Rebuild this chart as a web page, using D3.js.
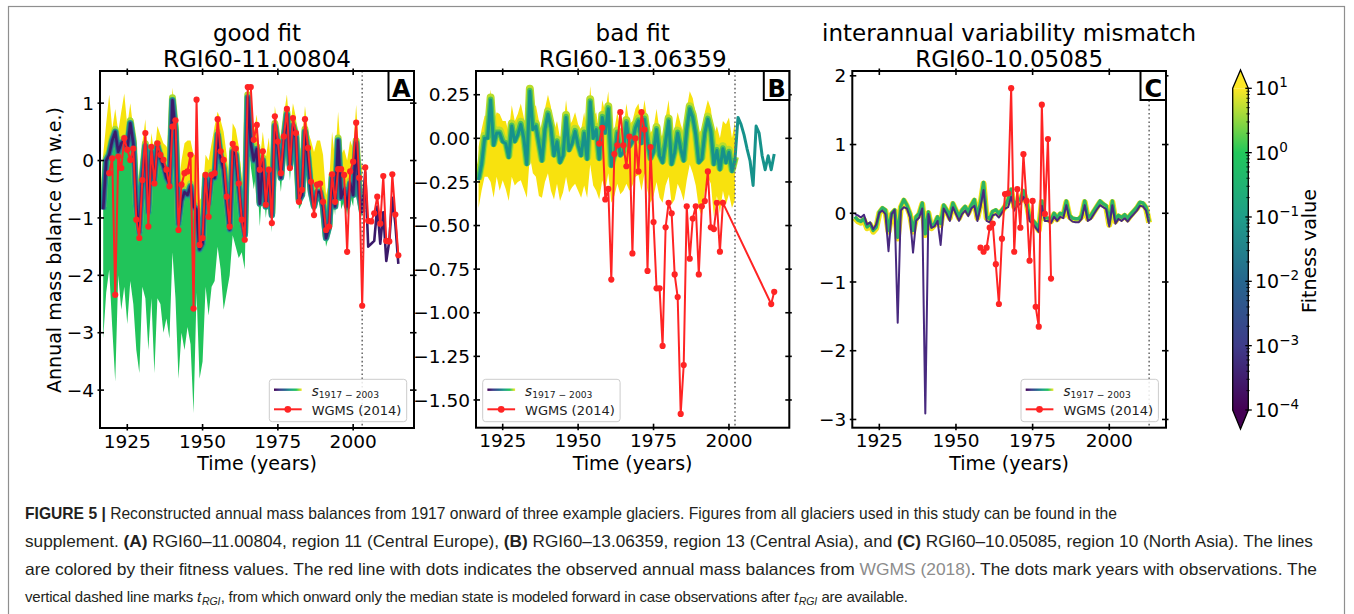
<!DOCTYPE html>
<meta charset="utf-8">
<html>
<head>
<title>Reconstructed annual mass balances</title>
<script src="https://cdnjs.cloudflare.com/ajax/libs/d3/7.8.5/d3.min.js"></script>
<style>
  body { margin: 0; background: #fff; }
  svg text { font-family: "DejaVu Sans", sans-serif; fill: #000; }
  .caption text { font-family: "Liberation Sans Narrow", "Arial Narrow", "Liberation Sans", sans-serif; fill: #231f20; }
</style>
</head>
<body>
<script>

// ---------- values ----------
var firstYear = 1917;
var xTicks = [1925, 1950, 1975, 2000];

// (A) RGI60-11.00804 : median state 1917-2015, ensemble envelope 1917-2003
var aMedian = [-0.85, 0.0, 0.1, 0.35, 0.5, 0.15, 0.3, 0.35, 0.2, 0.65,
  0.3, -0.8, -1.25, -0.3, 0.25, -0.9, 0.15, -0.35, 0.25, 0.05,
  -0.1, -0.3, -0.4, 1.05, 0.5, -1.1, -0.7, -0.55, -0.6, -0.45,
  -0.8, -0.85, -1.55, -1.45, -0.3, -0.75, -0.25, -0.3, 0.45, 0.05,
  -0.15, -0.7, -1.2, 0.15, 0.1, -0.45, -1.0, -1.3, 1.1, 0.3,
  0.0, 0.2, -0.75, 0.0, -0.8, -0.2, -0.95, 0.6, 0.25, -0.3,
  0.35, 0.8, -0.1, 0.6, 0.4, -0.7, -0.6, 0.5, 0.05, -0.55,
  -0.8, -0.55, -0.55, -0.8, -1.35, -1.15, -0.3, -0.8, 0.35, -0.65,
  -0.5, -0.8, -0.4, -0.6, 0.3, -0.6, -0.9, -0.2, -1.5, -1.45,
  -1.4, -0.8, -1.45, -0.9, -1.75, -1.4, -0.65, -1.1, -1.8];
var aUpper = [0.1, 0.65, 1.15, 0.55, 0.9, 0.5, 0.85, 1.17, 0.6, 1.0,
  0.55, -0.2, -0.5, 0.3, 0.72, -0.2, 0.48, 0.1, 0.6, 0.45,
  0.3, 0.25, 0.1, 1.27, 0.8, -0.5, 0.0, 0.3, 0.35, 0.35,
  0.1, 0.1, -0.7, -0.6, 0.1, 0.0, 0.3, 0.6, 0.85, 0.7,
  0.5, 0.1, -0.4, 0.65, 0.55, 0.25, -0.3, -0.5, 1.3, 1.1,
  0.5, 0.8, 0.0, 0.5, 0.05, 0.4, -0.3, 0.95, 0.55, 0.3,
  0.8, 1.15, 0.5, 1.0, 0.75, 0.1, 0.3, 0.95, 0.5, 0.35,
  0.15, 0.35, 0.35, 0.1, -0.6, -0.4, 0.5, 0.0, 0.85, 0.1,
  0.2, 0.0, 0.35, 0.2, 0.97, 0.1, -0.1];
var aLower = [-3.1, -2.3, -1.9, -2.9, -3.85, -2.0, -2.6, -2.2, -2.85, -2.1,
  -2.5, -3.3, -3.7, -2.2, -2.4, -3.3, -2.4, -3.7, -2.4, -2.5,
  -3.0, -2.75, -3.1, -1.6, -2.4, -3.8, -3.0, -3.3, -2.9, -3.2,
  -4.4, -2.3, -3.8, -3.5, -2.2, -2.7, -2.2, -2.1, -1.5, -1.9,
  -2.6, -2.3, -2.0, -1.3, -1.5, -1.7, -1.6, -1.9, 0.7, -0.1,
  -0.5, -0.15, -1.15, -0.3, -1.0, -0.45, -1.25, 0.3, 0.0, -0.55,
  0.1, 0.5, -0.35, 0.35, 0.15, -0.85, -0.75, 0.25, -0.2, -0.7,
  -0.95, -0.7, -0.7, -0.95, -1.5, -1.3, -0.5, -0.95, 0.1, -0.85,
  -0.7, -0.95, -0.6, -0.8, 0.05, -0.8, -1.0];
var aObsStart = 1919;
var aObs = [-0.22, 0.04, -2.34, 0.07, -0.13, 0.39, 0.19, 0.01, 0.21, -1.03,
  -1.35, -0.34, 0.48, -1.15, 0.24, -0.4, 0.3, 0.1, 0.01, -0.16,
  -0.45, 0.59, 0.7, -1.21, -0.42, -0.22, -0.19, 0.1, -2.58, 1.06,
  -1.47, -1.35, -0.25, -0.98, -0.25, -0.22, 0.72, 0.16, 0.01, -0.63,
  -1.15, 0.29, 0.21, -0.4, -1.03, -1.38, 1.28, 1.28, 0.36, 0.62,
  -0.16, 0.16, -0.77, -0.16, -1.09, 0.77, 0.33, -0.22, 0.42, 0.9,
  -0.13, 0.74, 0.48, -0.72, -0.51, 0.72, 0.22, -0.37, -0.95, -0.42,
  -0.4, -0.72, -1.21, -1.15, -0.24, -0.72, -0.15, -0.15, -0.25, -1.59,
  -0.19, -0.02, 0.66, -0.3, -2.53, -0.12, -1.05, -1.06, -0.92, -0.63,
  -1.1, -0.27, -1.4, -1.41, -0.24, -0.94, -1.65];
var aTicksY = [-4, -3, -2, -1, 0, 1];

// (B) RGI60-13.06359 : median state 1917-2015, ensemble envelope 1917-2002
var bMedian = [-0.24, -0.15, 0.0, 0.0, 0.22, -0.04, 0.03, 0.03, -0.02, -0.03,
  -0.11, 0.07, -0.02, 0.02, 0.08, 0.0, -0.15, 0.27, 0.05, 0.07,
  -0.03, -0.13, 0.05, 0.14, 0.06, -0.1, -0.02, -0.14, -0.1, 0.12,
  -0.07, -0.03, 0.04, -0.04, -0.1, 0.03, -0.12, 0.21, 0.0, 0.05,
  -0.12, 0.12, 0.03, 0.17, -0.16, -0.1, 0.03, -0.1, -0.08, 0.09,
  -0.05, -0.02, 0.06, 0.1, -0.03, 0.11, -0.02, -0.12, -0.08, 0.05,
  -0.1, -0.14, -0.02, 0.1, -0.15, -0.08, 0.03, -0.06, -0.13, 0.05,
  0.17, 0.12, 0.02, -0.14, -0.12, 0.03, 0.11, 0.04, -0.15, -0.07,
  -0.18, -0.06, -0.14, -0.08, -0.19, -0.12, 0.12, 0.08, 0.02, -0.06,
  -0.13, -0.27, 0.07, 0.03, -0.1, -0.18, -0.1, -0.18, -0.09];
var bUpper = [-0.05, 0.05, 0.13, 0.13, 0.28, 0.1, 0.15, 0.14, 0.1, 0.1,
  0.03, 0.19, 0.1, 0.14, 0.2, 0.12, 0.0, 0.3, 0.17, 0.19,
  0.1, 0.02, 0.17, 0.25, 0.18, 0.04, 0.1, 0.0, 0.05, 0.22,
  0.07, 0.1, 0.15, 0.08, 0.05, 0.15, 0.03, 0.3, 0.12, 0.15,
  0.03, 0.22, 0.15, 0.27, 0.0, 0.05, 0.15, 0.05, 0.05, 0.2,
  0.08, 0.1, 0.17, 0.2, 0.1, 0.22, 0.1, 0.03, 0.06, 0.17,
  0.04, 0.0, 0.12, 0.22, 0.02, 0.06, 0.15, 0.08, 0.03, 0.17,
  0.27, 0.23, 0.14, 0.03, 0.05, 0.15, 0.22, 0.17, 0.02, 0.07,
  0.0, 0.1, 0.08, 0.12, 0.0, 0.1];
var bLower = [-0.40, -0.3, -0.22, -0.22, -0.25, -0.34, -0.22, -0.3, -0.24, -0.29,
  -0.36, -0.22, -0.27, -0.25, -0.24, -0.29, -0.34, -0.1, -0.2, -0.22,
  -0.33, -0.34, -0.25, -0.2, -0.3, -0.35, -0.26, -0.36, -0.31, -0.22,
  -0.31, -0.28, -0.26, -0.3, -0.34, -0.27, -0.34, -0.15, -0.27, -0.3,
  -0.35, -0.24, -0.3, -0.2, -0.37, -0.33, -0.26, -0.32, -0.3, -0.26,
  -0.3, -0.27, -0.22, -0.21, -0.3, -0.2, -0.3, -0.37, -0.33, -0.25,
  -0.34, -0.37, -0.27, -0.22, -0.38, -0.35, -0.26, -0.3, -0.36, -0.24,
  -0.15, -0.2, -0.27, -0.4, -0.45, -0.3, -0.22, -0.26, -0.45, -0.33,
  -0.43, -0.3, -0.38, -0.32, -0.4, -0.35];
var bObsYears = [1957, 1958, 1959, 1960, 1961, 1962, 1963, 1964, 1965, 1966,
  1967, 1968, 1969, 1970, 1971, 1972, 1973, 1974, 1975, 1976,
  1977, 1978, 1979, 1980, 1981, 1982, 1983, 1984, 1985, 1986,
  1987, 1988, 1989, 1990, 1991, 1992, 1993, 1994, 1995, 1996,
  1997, 1998, 2014, 2015];
var bObs = [-0.03, 0.06, -0.35, -0.29, -0.81, -0.09, -0.04, 0.15, -0.04, -0.16,
  0.01, -0.66, 0.0, -0.19, 0.15, 0.05, -0.76, -0.05, -0.48, -0.86,
  -0.86, -1.19, -0.51, -0.37, -0.43, -0.78, -0.91, -1.58, -1.30, -0.39,
  -0.69, -0.46, -0.39, -0.78, -0.39, -0.36, -0.19, -0.51, -0.52, -0.37,
  -0.65, -0.37, -0.95, -0.88];
var bTicksY = [-1.5, -1.25, -1.0, -0.75, -0.5, -0.25, 0.0, 0.25];

// (C) RGI60-10.05085 : ensemble centre and best member 1917-2013
var cEnsemble = [-0.05, -0.1, -0.12, -0.08, -0.2, -0.15, -0.25, -0.2, 0.02, 0.08,
  0.05, -0.25, 0.0, 0.05, -0.35, 0.1, 0.2, 0.12, 0.0, -0.25,
  -0.05, 0.0, 0.15, -0.3, 0.02, -0.2, -0.15, -0.05, -0.15, 0.12,
  0.05, -0.05, 0.15, 0.05, -0.05, 0.05, 0.1, 0.02, 0.12, 0.2,
  -0.05, 0.15, 0.45, -0.05, -0.08, 0.03, 0.05, 0.0, 0.05, 0.11,
  0.2, 0.35, 0.11, 0.18, 0.2, 0.33, 0.18, -0.06, -0.1, -0.15,
  -0.23, 0.18, -0.06, -0.07, -0.1, 0.0, -0.07, 0.0, -0.02, 0.18,
  -0.03, -0.07, -0.08, -0.08, -0.03, 0.18, -0.06, -0.03, 0.04, 0.11,
  0.18, 0.14, 0.11, -0.15, 0.18, -0.1, -0.03, -0.06, -0.02, -0.07,
  -0.01, 0.04, 0.09, 0.16, 0.15, 0.09, -0.12];
var cBest = [0.0, -0.02, -0.05, -0.01, -0.15, -0.12, -0.22, -0.15, 0.02, 0.05,
  0.0, -0.54, 0.0, 0.06, -1.58, 0.05, 0.1, 0.08, -0.05, -0.56,
  -0.1, -0.05, 0.08, -2.9, 0.0, -0.2, -0.18, -0.1, -0.45, 0.08,
  0.0, -0.1, 0.1, 0.0, -0.1, 0.0, 0.05, -0.03, 0.08, 0.12,
  -0.1, 0.1, 0.35, -0.1, -0.12, -0.02, 0.0, -0.05, 0.02, 0.08,
  0.1, 0.25, 0.05, 0.12, 0.15, 0.25, 0.12, -0.1, -0.14, -0.2,
  -0.26, 0.12, -0.1, -0.1, -0.13, -0.04, -0.1, -0.04, -0.06, 0.13,
  -0.07, -0.11, -0.12, -0.12, -0.07, 0.13, -0.1, -0.07, 0.0, 0.07,
  0.13, 0.1, 0.07, -0.18, 0.13, -0.14, -0.07, -0.1, -0.06, -0.11,
  -0.05, 0.0, 0.05, 0.12, 0.11, 0.05, -0.14];
var cObsStart = 1958;
var cObs = [-0.5, -0.56, -0.5, -0.21, -0.15, -0.74, -1.32, -0.37, 0.28, 0.29,
  1.82, -0.56, 0.35, -0.21, 0.86, 0.18, -0.69, 0.18, -1.36, -1.65,
  1.58, -0.01, 1.08, -0.95];
var cTicksY = [-3, -2, -1, 0, 1, 2];

// fitness colour bar, log10 of fitness
var cbTicks = [-4, -3, -2, -1, 0, 1];
var cbColors = ["#440154", "#3f3c8a", "#26668e", "#1f9e89", "#22c85b", "#fde725"];

// ---------- drawing ----------
var red = "#ff2424";
var fitness = d3.scaleLinear().domain(cbTicks).range(cbColors).interpolate(d3.interpolateRgb);

var svg = d3.select("body").append("svg")
  .attr("width", 1354)
  .attr("height", 614);
var defs = svg.append("defs");

svg.append("rect").attr("width", 1354).attr("height", 614).attr("fill", "#fff");
// frame around the whole figure
svg.append("rect")
  .attr("x", 8.5).attr("y", 6.5).attr("width", 1336).attr("height", 640)
  .attr("fill", "none").attr("stroke", "#8f8f8f").attr("stroke-width", 1.2);

// gradient used for the ensemble legend entry
var legGrad = defs.append("linearGradient").attr("id", "legGrad");
cbTicks.forEach(function(t, i) {
  legGrad.append("stop").attr("offset", (i / (cbTicks.length - 1) * 100) + "%").attr("stop-color", fitness(t));
});

function pts(values, start) {
  return values.map(function(v, i) { return { year: start + i, v: v }; });
}
function ptsYears(years, values) {
  return values.map(function(v, i) { return { year: years[i], v: v }; });
}
function bandPts(lo, hi, start) {
  return lo.map(function(v, i) { return { year: start + i, lo: v, hi: hi[i] }; });
}

function thick(plot, data, line, color, width, dy) {
  plot.append("path").datum(data)
    .attr("d", line)
    .attr("fill", "none")
    .attr("stroke", color)
    .attr("stroke-width", width)
    .attr("stroke-linejoin", "round")
    .attr("transform", dy ? "translate(0," + dy + ")" : null);
}

var panels = [
  {
    id: "A", title: "good fit", glacier: "RGI60-11.00804",
    left: 100, right: 414, top: 71, bottom: 428,
    xDomain: [1915.94, 2020.2], yDomain: [-4.66, 1.56],
    yTicks: aTicksY, yFormat: d3.format("d"), tRGI: 2003,
    obs: pts(aObs, aObsStart), legendX: 269.3,
    ensemble: function(plot, line, band) {
      plot.append("path").datum(bandPts(aMedian.slice(0, aUpper.length), aUpper, firstYear))
        .attr("d", band).attr("fill", "#f6e30c");
      plot.append("path").datum(bandPts(aLower, aMedian.slice(0, aLower.length), firstYear))
        .attr("d", band).attr("fill", "#21c45a");
      var core = pts(aMedian.slice(0, aUpper.length), firstYear);
      thick(plot, core, line, "#a6da33", 7, -2.5);
      thick(plot, core, line, "#22a187", 6.5, 0);
      thick(plot, core, line, "#2c648d", 4.5, 0);
      thick(plot, pts(aMedian, firstYear), line, "#3b1a6a", 2.6, 0);
    }
  },
  {
    id: "B", title: "bad fit", glacier: "RGI60-13.06359",
    left: 476, right: 789.3, top: 71, bottom: 427.7,
    xDomain: [1916.15, 2020.0], yDomain: [-1.659, 0.386],
    yTicks: bTicksY, yFormat: d3.format(".2f"), tRGI: 2002,
    obs: ptsYears(bObsYears, bObs), legendX: 482.7,
    ensemble: function(plot, line, band) {
      plot.append("path").datum(bandPts(bLower, bUpper, firstYear))
        .attr("d", band).attr("fill", "#f8e20e");
      var core = pts(bMedian.slice(0, bUpper.length), firstYear);
      thick(plot, core, line, "#b9dd2a", 8, -2.5);
      thick(plot, core, line, "#4cc158", 5.5, -0.8);
      thick(plot, pts(bMedian, firstYear), line, "#16928b", 3, 0);
    }
  },
  {
    id: "C", title: "interannual variability mismatch", glacier: "RGI60-10.05085",
    left: 852.3, right: 1166, top: 71, bottom: 427.7,
    xDomain: [1916.19, 2018.5], yDomain: [-3.12, 2.07],
    yTicks: cTicksY, yFormat: d3.format("d"), tRGI: 2013,
    obs: pts(cObs, cObsStart), legendX: 1021,
    ensemble: function(plot, line, band) {
      var ens = pts(cEnsemble, firstYear);
      thick(plot, ens, line, "#f2e21a", 6, 1.2);
      thick(plot, ens, line, "#2cb463", 3.4, 0);
      thick(plot, pts(cBest, firstYear), line, "#48297f", 2, 0.8);
    }
  }
];

panels.forEach(drawPanel);

function drawPanel(p) {
  var x = d3.scaleLinear().domain(p.xDomain).range([p.left, p.right]);
  var y = d3.scaleLinear().domain(p.yDomain).range([p.bottom, p.top]);
  var g = svg.append("g");

  defs.append("clipPath").attr("id", "clip" + p.id)
    .append("rect")
      .attr("x", p.left).attr("y", p.top)
      .attr("width", p.right - p.left).attr("height", p.bottom - p.top);
  var plot = g.append("g").attr("clip-path", "url(#clip" + p.id + ")");

  var line = d3.line()
    .defined(function(d) { return d.v != null; })
    .x(function(d) { return x(d.year); })
    .y(function(d) { return y(d.v); });
  var band = d3.area()
    .x(function(d) { return x(d.year); })
    .y0(function(d) { return y(d.lo); })
    .y1(function(d) { return y(d.hi); });

  p.ensemble(plot, line, band);

  // t_RGI marker
  plot.append("line")
    .attr("x1", x(p.tRGI)).attr("x2", x(p.tRGI))
    .attr("y1", p.top).attr("y2", p.bottom)
    .attr("stroke", "#6e6e6e").attr("stroke-width", 1.6)
    .attr("stroke-dasharray", "1.6,2.6");

  // WGMS observations
  plot.append("path").datum(p.obs)
    .attr("d", line)
    .attr("fill", "none").attr("stroke", red).attr("stroke-width", 2);
  plot.selectAll("circle.obs").data(p.obs).enter().append("circle")
    .attr("class", "obs")
    .attr("cx", function(d) { return x(d.year); })
    .attr("cy", function(d) { return y(d.v); })
    .attr("r", 3.1)
    .attr("fill", red);

  // axes frame and ticks (ticks on all four sides, crossing the spine)
  g.append("rect")
    .attr("x", p.left).attr("y", p.top)
    .attr("width", p.right - p.left).attr("height", p.bottom - p.top)
    .attr("fill", "none").attr("stroke", "#000").attr("stroke-width", 2);

  xTicks.forEach(function(t) {
    var xx = x(t);
    g.append("line").attr("x1", xx).attr("x2", xx).attr("y1", p.bottom + 2.5).attr("y2", p.bottom - 4)
      .attr("stroke", "#000").attr("stroke-width", 1.6);
    g.append("line").attr("x1", xx).attr("x2", xx).attr("y1", p.top - 2.5).attr("y2", p.top + 4)
      .attr("stroke", "#000").attr("stroke-width", 1.6);
    g.append("text").attr("x", xx).attr("y", p.bottom + 19.5)
      .attr("text-anchor", "middle").style("font-size", "18.5px").text(t);
  });
  p.yTicks.forEach(function(t) {
    var yy = y(t);
    g.append("line").attr("x1", p.left - 2.5).attr("x2", p.left + 4).attr("y1", yy).attr("y2", yy)
      .attr("stroke", "#000").attr("stroke-width", 1.6);
    g.append("line").attr("x1", p.right + 2.5).attr("x2", p.right - 4).attr("y1", yy).attr("y2", yy)
      .attr("stroke", "#000").attr("stroke-width", 1.6);
    g.append("text").attr("x", p.left - 6).attr("y", yy).attr("dy", "0.36em")
      .attr("text-anchor", "end").style("font-size", "18.5px").text(p.yFormat(t));
  });

  var cx = (p.left + p.right) / 2;
  g.append("text").attr("x", cx).attr("y", 470).attr("text-anchor", "middle")
    .style("font-size", "19px").text("Time (years)");
  g.append("text").attr("x", cx).attr("y", 41).attr("text-anchor", "middle")
    .style("font-size", "23px").text(p.title);
  g.append("text").attr("x", cx).attr("y", 67).attr("text-anchor", "middle")
    .style("font-size", "23px").text(p.glacier);

  // panel letter
  g.append("rect")
    .attr("x", p.right - 25.5).attr("y", p.top)
    .attr("width", 25.5).attr("height", 29)
    .attr("fill", "#fff").attr("stroke", "#000").attr("stroke-width", 2);
  g.append("text").attr("x", p.right - 12.7).attr("y", p.top + 25.5)
    .attr("text-anchor", "middle").style("font-size", "24px").style("font-weight", "bold")
    .text(p.id);

  // legend
  var lx = p.legendX, ly = 379.3;
  var leg = g.append("g");
  leg.append("rect")
    .attr("x", lx).attr("y", ly).attr("width", 137.4).attr("height", 42.4).attr("rx", 3)
    .attr("fill", "#fff").attr("fill-opacity", 0.85).attr("stroke", "#cccccc").attr("stroke-width", 1);
  leg.append("rect")
    .attr("x", lx + 4.7).attr("y", ly + 9.2).attr("width", 27.7).attr("height", 2.4)
    .attr("fill", "url(#legGrad)");
  var s = leg.append("text").attr("x", lx + 42.4).attr("y", ly + 16.5).style("fill", "#222");
  s.append("tspan").style("font-size", "13.5px").style("font-style", "italic").text("s");
  s.append("tspan").attr("dy", 2.5).style("font-size", "9.2px").text("1917 \u2212 2003");
  leg.append("line")
    .attr("x1", lx + 4.7).attr("x2", lx + 32.4).attr("y1", ly + 30).attr("y2", ly + 30)
    .attr("stroke", red).attr("stroke-width", 2);
  leg.append("circle").attr("cx", lx + 18.5).attr("cy", ly + 30).attr("r", 3.4).attr("fill", red);
  leg.append("text").attr("x", lx + 42.4).attr("y", ly + 35.5)
    .style("font-size", "13px").style("fill", "#222").text("WGMS (2014)");
}

// y label of panel A
svg.append("text")
  .attr("transform", "translate(61,250) rotate(-90)")
  .attr("text-anchor", "middle")
  .style("font-size", "19px")
  .text("Annual mass balance (m w.e.)");

// ---------- colour bar ----------
var cbX = 1232.7, cbW = 15.6, cbTopTip = 70, cbBottomTip = 429;
var cbY = d3.scaleLinear().domain([-4, 1]).range([410, 88.3]);

var cbGrad = defs.append("linearGradient").attr("id", "cbGrad")
  .attr("x1", 0).attr("y1", 1).attr("x2", 0).attr("y2", 0);
cbTicks.forEach(function(t, i) {
  cbGrad.append("stop").attr("offset", (i / (cbTicks.length - 1) * 100) + "%").attr("stop-color", fitness(t));
});
var cb = svg.append("g");
cb.append("rect").attr("x", cbX).attr("y", cbY(1)).attr("width", cbW).attr("height", cbY(-4) - cbY(1))
  .attr("fill", "url(#cbGrad)");
cb.append("path")
  .attr("d", "M" + cbX + "," + cbY(1) + "L" + (cbX + cbW / 2) + "," + cbTopTip + "L" + (cbX + cbW) + "," + cbY(1) + "Z")
  .attr("fill", fitness(1));
cb.append("path")
  .attr("d", "M" + cbX + "," + cbY(-4) + "L" + (cbX + cbW / 2) + "," + cbBottomTip + "L" + (cbX + cbW) + "," + cbY(-4) + "Z")
  .attr("fill", fitness(-4));
cb.append("path")
  .attr("d", "M" + cbX + "," + cbY(1) + "L" + (cbX + cbW / 2) + "," + cbTopTip + "L" + (cbX + cbW) + "," + cbY(1) +
    "L" + (cbX + cbW) + "," + cbY(-4) + "L" + (cbX + cbW / 2) + "," + cbBottomTip + "L" + cbX + "," + cbY(-4) + "Z")
  .attr("fill", "none").attr("stroke", "#000").attr("stroke-width", 1.3);

// minor ticks inside each decade
cbTicks.slice(0, -1).forEach(function(d) {
  for (var k = 2; k < 10; k++) {
    var yy = cbY(d + Math.log10(k));
    cb.append("line").attr("x1", cbX + cbW - 2).attr("x2", cbX + cbW + 1.5).attr("y1", yy).attr("y2", yy)
      .attr("stroke", "#000").attr("stroke-width", 0.8);
  }
});
cbTicks.forEach(function(t) {
  var yy = cbY(t);
  cb.append("line").attr("x1", cbX + cbW - 3).attr("x2", cbX + cbW + 3.5).attr("y1", yy).attr("y2", yy)
    .attr("stroke", "#000").attr("stroke-width", 1.3);
  var lab = cb.append("text").attr("x", 1255).attr("y", yy + 7).style("font-size", "19px");
  lab.append("tspan").text("10");
  lab.append("tspan").attr("dy", -8).style("font-size", "13.5px").text(d3.format("d")(t));
});
cb.append("text")
  .attr("transform", "translate(1316,251) rotate(-90)")
  .attr("text-anchor", "middle")
  .style("font-size", "19px")
  .text("Fitness value");

// ---------- caption ----------
var captionLines = [
  { end: 1117, size: 16.5, parts: [
    { t: "FIGURE 5 | ", b: true },
    { t: "Reconstructed annual mass balances from 1917 onward of three example glaciers. Figures from all glaciers used in this study can be found in the" }] },
  { end: 1313, size: 16.5, parts: [
    { t: "supplement. " }, { t: "(A)", b: true },
    { t: " RGI60\u201311.00804, region 11 (Central Europe), " }, { t: "(B)", b: true },
    { t: " RGI60\u201313.06359, region 13 (Central Asia), and " }, { t: "(C)", b: true },
    { t: " RGI60\u201310.05085, region 10 (North Asia). The lines" }] },
  { end: 1317, size: 16.5, parts: [
    { t: "are colored by their fitness values. The red line with dots indicates the observed annual mass balances from " },
    { t: "WGMS (2018)", c: "#8c8c8c" },
    { t: ". The dots mark years with observations. The" }] },
  { end: 908, size: 15, parts: [
    { t: "vertical dashed line marks " }, { t: "t", i: true }, { t: "RGI", i: true, sub: true },
    { t: ", from which onward only the median state is modeled forward in case observations after " },
    { t: "t", i: true }, { t: "RGI", i: true, sub: true }, { t: " are available." }] }
];
var cap = svg.append("g").attr("class", "caption");
captionLines.forEach(function(ln, li) {
  var txt = cap.append("text")
    .attr("x", 25).attr("y", 519 + li * 27.8)
    .attr("textLength", ln.end - 25)
    .attr("lengthAdjust", li < 3 ? "spacingAndGlyphs" : "spacing")
    .style("font-size", ln.size + "px");
  var shifted = false;
  ln.parts.forEach(function(part) {
    var ts = txt.append("tspan").text(part.t);
    if (part.b) ts.style("font-weight", "bold");
    if (part.i) ts.style("font-style", "italic");
    if (part.c) ts.style("fill", part.c);
    if (part.sub) { ts.attr("dy", 3).attr("dx", 1).style("font-size", "10.5px"); shifted = true; }
    else if (shifted) { ts.attr("dy", -3).attr("dx", 0.5); shifted = false; }
  });
});

</script>
</body>
</html>
